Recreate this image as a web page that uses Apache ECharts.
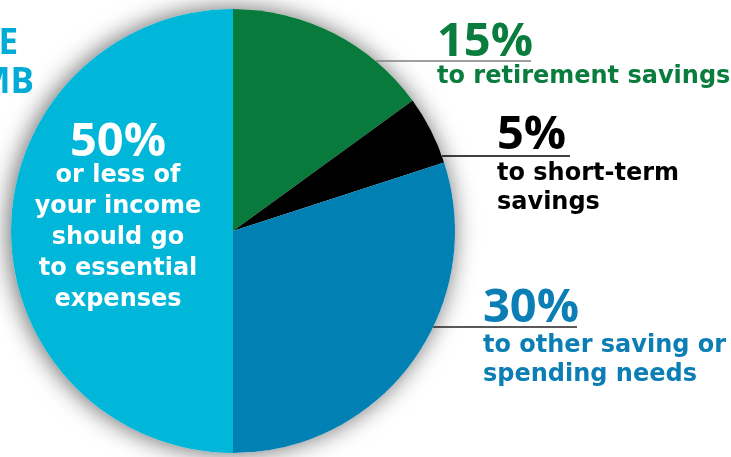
<!DOCTYPE html>
<html><head><meta charset="utf-8">
<script src="https://cdn.jsdelivr.net/npm/echarts@6/dist/echarts.min.js"></script>
<style>html,body{margin:0;padding:0;background:#fff}#c{width:731px;height:457px}</style>
</head><body><div id="c"></div>
<script>
const categories = ['retirement', 'short-term', 'other', 'essential'];
const values = [15, 5, 30, 50];
const percentLabels = ['15%', '5%', '30%', '50%'];
const descLabels = [
  ['to retirement savings'],
  ['to short-term', 'savings'],
  ['to other saving or', 'spending needs'],
  ['or less of', 'your income', 'should go', 'to essential', 'expenses']
];
const headingLines = ['E', 'MB'];
const colors = ['#077a3c', '#000000', '#0080b3', '#00b6d9'];
const textColors = ['#0a7d3e', '#000000', '#0a7eb5', '#ffffff'];

const PFONT = '"Open Sans", "Noto Sans", sans-serif';
const DFONT = '"DejaVu Sans", "Open Sans", sans-serif';
const cx = 233, cy = 231, R = 222;
function edgeX(y){ return cx + Math.sqrt(R*R - (y-cy)*(y-cy)); }

function txt(x, y, text, fill, font, align, lh){
  const st = {text:text, fill:fill, font:font, align:align||'left', verticalAlign:'top'};
  if (lh) st.lineHeight = lh;
  return {type:'text', x:x, y:y, z:10, style:st};
}

const graphics = [];
// heading (clipped at the left edge)
graphics.push(txt(18, 27, headingLines[0], '#00acd6', 'bold 35px '+PFONT, 'right'));
graphics.push(txt(34, 66, headingLines[1], '#00acd6', 'bold 35px '+PFONT, 'right'));

// right labels
const outLab = [
  {x:437, pctTop:19, lineY:61, lineEnd:531, lineColor:'#808080', descTop:62},
  {x:497, pctTop:112, lineY:156, lineEnd:570, lineColor:'#000000', descTop:159},
  {x:483, pctTop:285, lineY:327, lineEnd:577, lineColor:'#222222', descTop:331}
];
outLab.forEach((o, i) => {
  graphics.push({type:'line', z:10, shape:{x1:edgeX(o.lineY), y1:o.lineY, x2:o.lineEnd, y2:o.lineY}, style:{stroke:o.lineColor, lineWidth:1.3}});
  graphics.push(txt(o.x, o.pctTop, percentLabels[i], textColors[i], 'bold 47px '+PFONT));
  graphics.push(txt(o.x, o.descTop, descLabels[i].join('\n'), textColors[i], 'bold 24px '+DFONT, 'left', 29));
});
// inner label
graphics.push(txt(118, 119, percentLabels[3], '#fff', 'bold 47px '+PFONT, 'center'));
graphics.push(txt(118, 160, descLabels[3].join('\n'), '#fff', 'bold 24px '+DFONT, 'center', 31));

const chart = echarts.init(document.getElementById('c'), null, {renderer:'canvas'});
chart.setOption({
  animation:false,
  series:[
    {type:'pie', silent:true, radius:R, center:[cx,cy], z:1, label:{show:false}, labelLine:{show:false},
     data:[{value: values.reduce((a,b)=>a+b,0), name:'shadow'}],
     itemStyle:{color:'#ffffff', shadowBlur:24, shadowColor:'rgba(0,0,0,0.6)', shadowOffsetX:-2, shadowOffsetY:0}},
    {type:'pie', silent:true, radius:R, center:[cx,cy], startAngle:90, clockwise:true, z:2,
     label:{show:false}, labelLine:{show:false},
     itemStyle:{borderWidth:0},
     data: categories.map((c,i)=>({name:c, value:values[i], itemStyle:{color:colors[i]}}))}
  ],
  graphic: graphics
});
</script></body></html>
